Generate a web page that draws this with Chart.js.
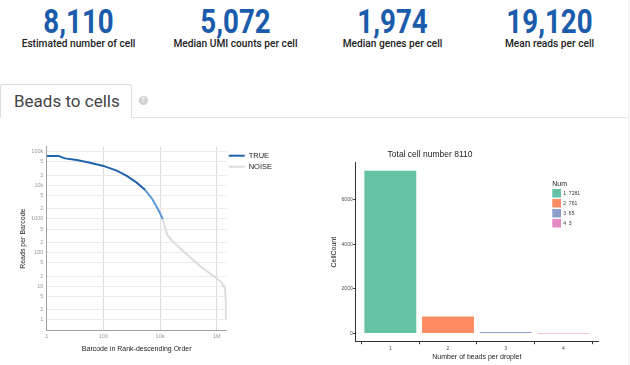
<!DOCTYPE html>
<html>
<head>
<meta charset="utf-8">
<script src="https://cdn.jsdelivr.net/npm/chart.js@4.4.1/dist/chart.umd.min.js"></script>
<style>
  body { margin: 0; width: 630px; height: 365px; overflow: hidden; background: #fff; font-family: Roboto, sans-serif; position: relative; }
  .stat { position: absolute; width: 157px; text-align: center; }
  .num { position: absolute; left: 0; width: 157px; top: 4.9px; font-size: 33px; line-height: 33px; font-weight: 700; color: #1a5cab; transform: scaleX(0.84); }
  .lab { position: absolute; left: 0; width: 157px; top: 37.4px; font-size: 11px; line-height: 13px; font-weight: 500; color: #222; white-space: nowrap; transform: scaleX(0.925); }
  .tab { position: absolute; left: 0; top: 84px; width: 117px; height: 33px; padding-left: 13px; border: 1px solid #dcdcdc; border-bottom: none; border-radius: 3px 3px 0 0; background: #fff; font-size: 17px; line-height: 33px; color: #444; }
  .tabline { position: absolute; left: 131px; top: 117px; width: 496px; height: 1px; background: #e2e2e2; }
  .help { position: absolute; left: 138.5px; top: 95.5px; width: 9px; height: 9px; border-radius: 50%; background: #cfcfcf; color: #fff; font-size: 7px; font-weight: 700; line-height: 9px; text-align: center; }
  .edge { position: absolute; left: 628px; top: 0; width: 1px; height: 365px; background: #f0f0f0; }
  canvas { position: absolute; }
</style>
</head>
<body>
<div id="stats"></div>
<div class="tab">Beads to cells</div>
<div class="help">?</div>
<div class="tabline"></div>
<div class="edge"></div>
<canvas id="rankChart" width="290" height="225" style="left:0;top:140px"></canvas>
<canvas id="beadChart" width="330" height="225" style="left:300px;top:140px"></canvas>
<script>
// summary numbers
const statValues = ['8,110', '5,072', '1,974', '19,120'];
const statLabels = ['Estimated number of cell', 'Median UMI counts per cell', 'Median genes per cell', 'Mean reads per cell'];

// barcode rank plot (reads per barcode, rank descending)
const trueRanks = [1, 2.6, 4.4, 11.4, 34, 100, 296, 670, 1500, 3000];
const trueReads = [74500, 74500, 63000, 56500, 47000, 37600, 27300, 19000, 12000, 7200];
const mixRanks = [3000, 5100, 7600, 10000, 12400];
const mixReads = [7200, 4100, 2300, 1480, 980];
const noiseRanks = [12400, 15000, 18200, 26000, 50700, 115000, 258000, 582000, 1000000, 1500000, 1950000, 2100000, 2150000];
const noiseReads = [980, 568, 335, 227, 135, 73, 40, 24, 17.3, 12.9, 8.7, 3.9, 1];
const rankXTicks = [1, 100, 10000, 1000000];
const rankXLabels = ['1', '100', '10k', '1M'];
const rankYTicks = [1, 2, 5, 10, 20, 50, 100, 200, 500, 1000, 2000, 5000, 10000, 20000, 50000, 100000];
const rankYLabels = ['1', '2', '5', '10', '2', '5', '100', '2', '5', '1000', '2', '5', '10k', '2', '5', '100k'];

// beads per droplet
const beadCats = [1, 2, 3, 4];
const cellCounts = [7281, 761, 65, 3];
const barColors = ['#66c2a5', '#fc8d62', '#8da0cb', '#e78ac3'];
const barYTicks = [0, 2000, 4000, 6000];

const statsDiv = document.getElementById('stats');
statValues.forEach((v, i) => {
    const d = document.createElement('div');
    d.className = 'stat';
    d.style.left = (i * 157) + 'px';
    d.innerHTML = '<div class="num">' + v + '</div><div class="lab">' + statLabels[i] + '</div>';
    statsDiv.appendChild(d);
});

Chart.defaults.font.family = '"Liberation Sans", Arial, sans-serif';
Chart.defaults.animation = false;

function pts(xs, ys) {
    return xs.map((x, i) => ({ x: x, y: ys[i] }));
}

const rankLegend = {
    id: 'rankLegend',
    afterDraw(chart) {
        const ctx = chart.ctx;
        const a = chart.chartArea;
        const shown = [chart.data.datasets[0], chart.data.datasets[2]];
        shown.forEach((ds, i) => {
            const y = a.top + 9 + i * 11;
            ctx.save();
            ctx.strokeStyle = ds.borderColor;
            ctx.lineWidth = 2;
            ctx.beginPath();
            ctx.moveTo(a.right + 2, y);
            ctx.lineTo(a.right + 18, y);
            ctx.stroke();
            ctx.fillStyle = '#222';
            ctx.font = '7.5px "Liberation Sans", Arial';
            ctx.textBaseline = 'middle';
            ctx.fillText(ds.label, a.right + 22, y);
            ctx.restore();
        });
    }
};

new Chart(document.getElementById('rankChart'), {
    type: 'line',
    data: {
        datasets: [
            { label: 'TRUE', data: pts(trueRanks, trueReads), borderColor: '#2162ad', borderWidth: 2, pointRadius: 0 },
            { label: 'TRUE', data: pts(mixRanks, mixReads), borderColor: '#5d9ad6', borderWidth: 2, pointRadius: 0 },
            { label: 'NOISE', data: pts(noiseRanks, noiseReads), borderColor: '#dcdcdc', borderWidth: 2, pointRadius: 0 }
        ]
    },
    options: {
        responsive: false,
        layout: { padding: { top: 6.7, right: 63.3, bottom: 0, left: 0 } },
        plugins: { legend: { display: false }, tooltip: { enabled: false } },
        scales: {
            x: {
                type: 'logarithmic',
                min: 1,
                max: 2250000,
                afterBuildTicks: (s) => { s.ticks = rankXTicks.map(v => ({ value: v })); },
                afterFit: (s) => { s.height = 34.3; },
                ticks: { callback: (v, i) => rankXLabels[i], font: { size: 5.5 }, color: '#999', padding: 2.7, autoSkip: false, maxRotation: 0 },
                grid: { color: '#dddddd', drawTicks: false },
                border: { color: '#a0a0a0' },
                title: { display: true, text: 'Barcode in Rank-descending Order', font: { size: 7 }, color: '#222', padding: { top: 0, bottom: 11.5 } }
            },
            y: {
                type: 'logarithmic',
                min: 0.48,
                max: 140000,
                afterBuildTicks: (s) => { s.ticks = rankYTicks.map(v => ({ value: v })); },
                afterFit: (s) => { s.width = 46.7; },
                ticks: { callback: (v, i) => rankYLabels[i], font: { size: 5.5 }, color: '#999', padding: 3.4, autoSkip: false },
                grid: { color: '#ebebeb', drawTicks: false },
                border: { color: '#a0a0a0' },
                title: { display: true, text: 'Reads per Barcode', font: { size: 7 }, color: '#222', padding: { top: 19.1, bottom: 0 } }
            }
        }
    },
    plugins: [rankLegend]
});

const beadExtras = {
    id: 'beadExtras',
    afterDraw(chart) {
        const ctx = chart.ctx;
        const a = chart.chartArea;
        const total = cellCounts.reduce((s, v) => s + v, 0);
        ctx.save();
        ctx.fillStyle = '#222';
        ctx.font = '8.5px "Liberation Sans", Arial';
        ctx.textAlign = 'center';
        ctx.textBaseline = 'middle';
        ctx.fillText('Total cell number ' + total, a.left + 74.3, a.top - 7.7);

        // legend inside the panel
        const lx = a.left + 196.6;
        const ly = a.top + 21.6;
        ctx.textAlign = 'left';
        ctx.font = '7px "Liberation Sans", Arial';
        ctx.fillText('Num', lx, ly);
        beadCats.forEach((c, i) => {
            const ky = ly + 4.7 + i * 10;
            ctx.fillStyle = barColors[i];
            ctx.fillRect(lx, ky, 8.7, 8.5);
            ctx.fillStyle = '#333';
            ctx.font = '5px "Liberation Sans", Arial';
            ctx.fillText(c + '  ' + cellCounts[i], lx + 11, ky + 4.3);
        });
        ctx.restore();
    }
};

new Chart(document.getElementById('beadChart'), {
    type: 'bar',
    data: {
        datasets: [{
            label: 'Num',
            data: pts(beadCats, cellCounts),
            backgroundColor: barColors,
            borderWidth: 0,
            barPercentage: 0.9,
            categoryPercentage: 1
        }]
    },
    options: {
        responsive: false,
        layout: { padding: { top: 22.7, right: 32, bottom: 0, left: 0 } },
        plugins: { legend: { display: false }, tooltip: { enabled: false } },
        scales: {
            x: {
                type: 'linear',
                min: 0.4,
                max: 4.6,
                offset: false,
                afterBuildTicks: (s) => { s.ticks = beadCats.map(v => ({ value: v })); },
                afterFit: (s) => { s.height = 23.3; },
                ticks: { callback: (v) => String(v), font: { size: 5 }, color: '#4d4d4d', padding: 1, autoSkip: false, maxRotation: 0 },
                grid: { drawOnChartArea: false, color: '#333', tickLength: 2.5 },
                border: { color: '#333', width: 1 },
                title: { display: true, text: 'Number of beads per droplet', font: { size: 7 }, color: '#222', padding: { top: 0, bottom: 4.1 } }
            },
            y: {
                min: -364,
                max: 7645,
                afterBuildTicks: (s) => { s.ticks = barYTicks.map(v => ({ value: v })); },
                afterFit: (s) => { s.width = 55.7; },
                ticks: { callback: (v) => String(v), font: { size: 5 }, color: '#4d4d4d', padding: 0.5, autoSkip: false },
                grid: { drawOnChartArea: false, color: '#333', tickLength: 2.5 },
                border: { color: '#333', width: 1 },
                title: { display: true, text: 'CellCount', font: { size: 7 }, color: '#222', padding: { top: 29.8, bottom: 0 } }
            }
        }
    },
    plugins: [beadExtras]
});
</script>
</body>
</html>
